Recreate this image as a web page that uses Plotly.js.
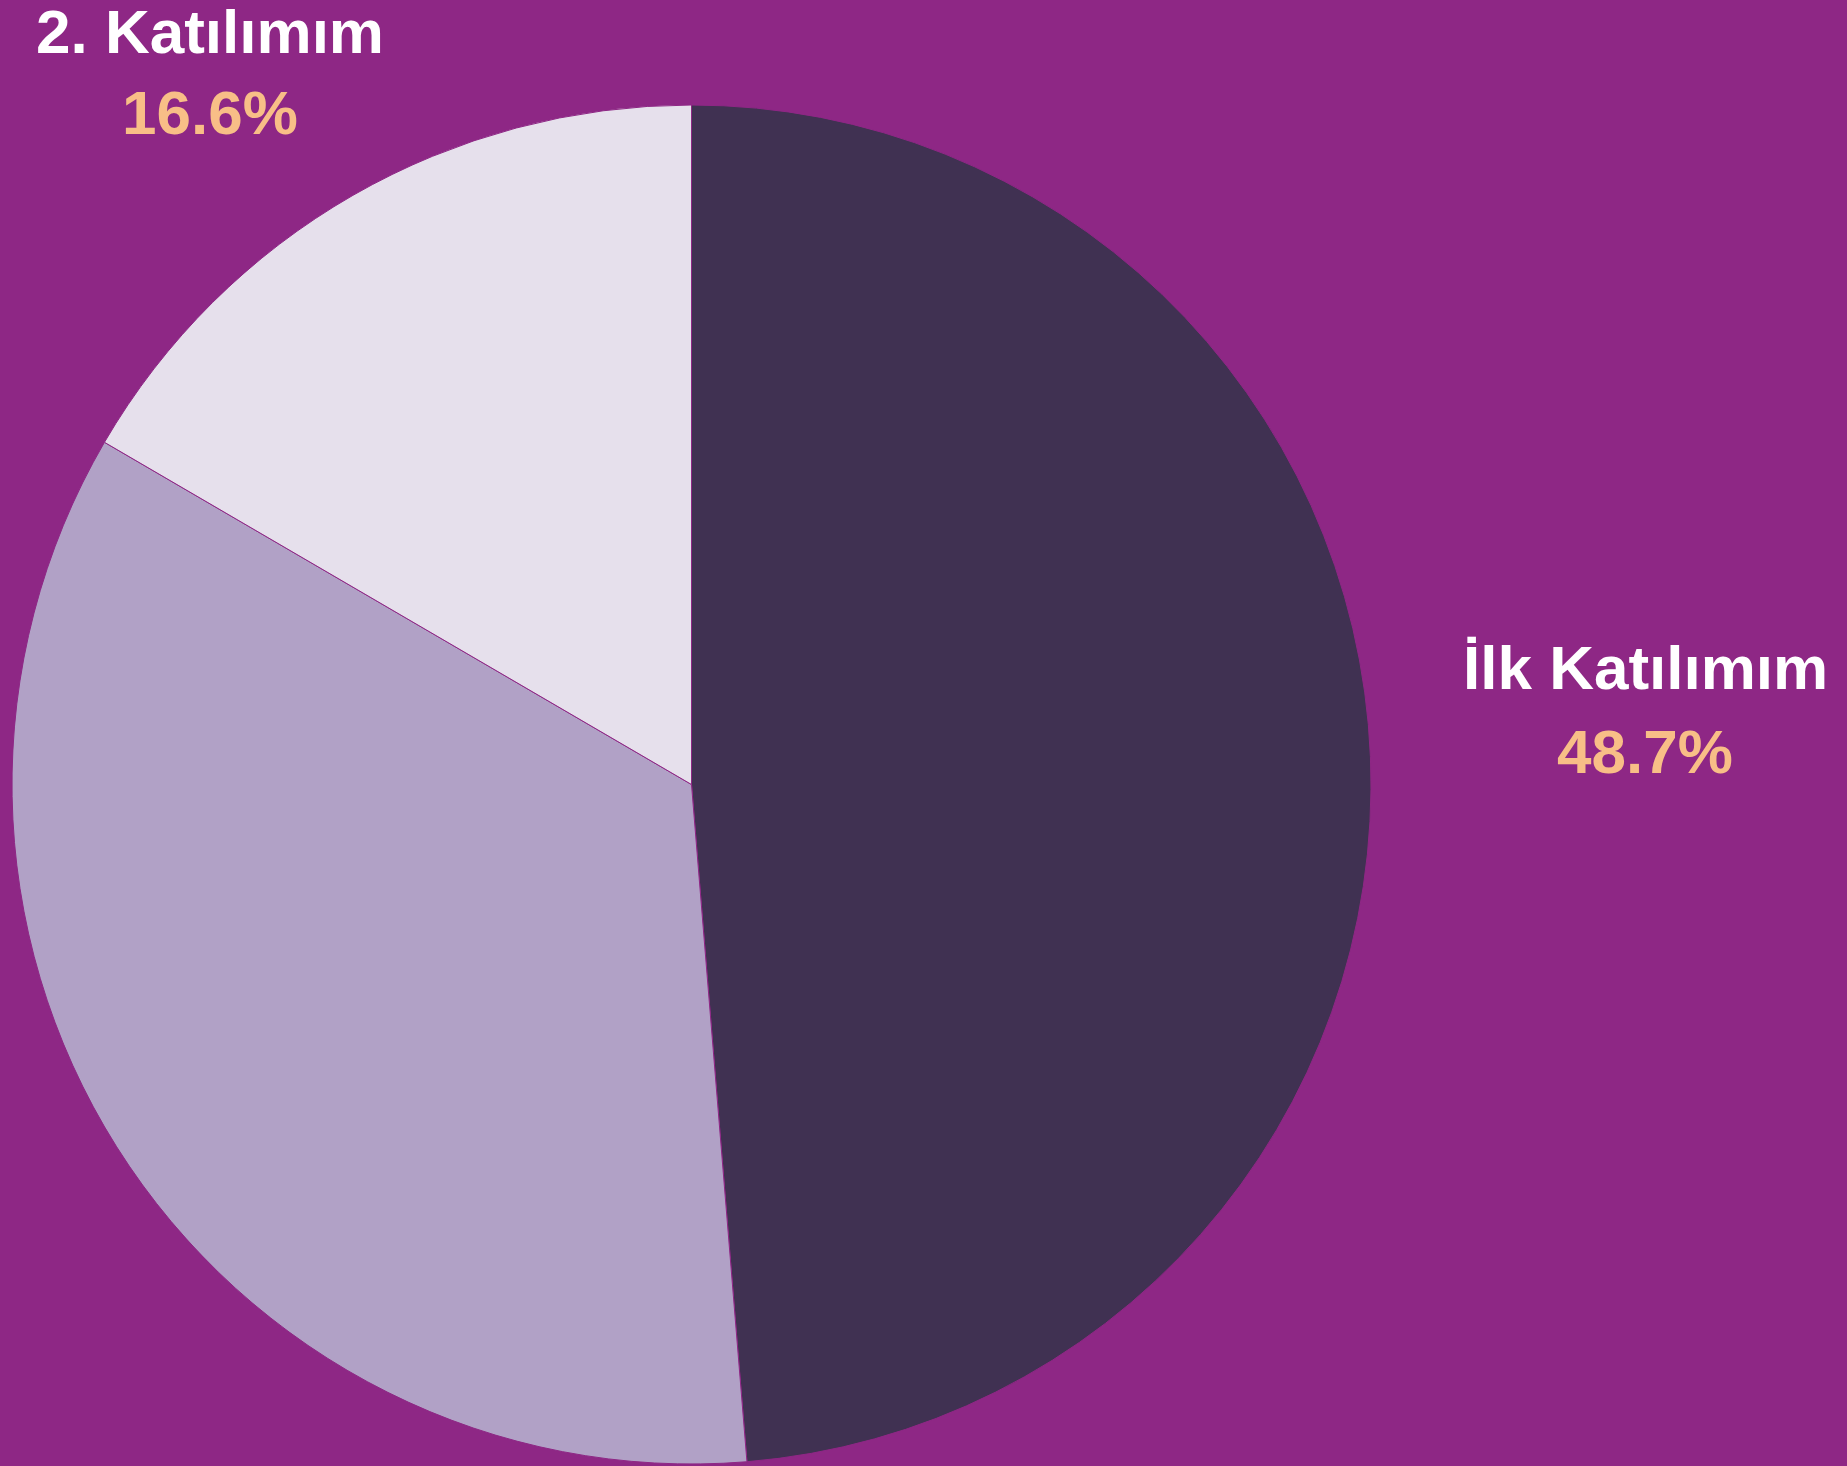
<!DOCTYPE html>
<html>
<head>
<meta charset="utf-8">
<script src="https://cdn.plot.ly/plotly-3.0.1.min.js"></script>
<style>html,body{margin:0;padding:0;background:#8E2785;}</style>
</head>
<body>
<div id="chart" style="width:1847px;height:1466px;"></div>
<script>
// Data
const categories = ["İlk Katılımım", "3. Katılımım", "2. Katılımım"];
const shares = [48.7, 34.7, 16.6];
const sliceColors = ["#403152", "#B1A1C6", "#E6E0EC"];
const labelledSlices = [0, 2];

const bg = "#8E2785";
const font = "Liberation Sans, Arial, sans-serif";

const trace = {
  type: "pie",
  labels: categories,
  values: shares,
  sort: false,
  direction: "clockwise",
  rotation: 0,
  textinfo: "none",
  hoverinfo: "label+percent",
  marker: { colors: sliceColors, line: { color: bg, width: 1 } },
  domain: { x: [12 / 1847, 1371 / 1847], y: [2 / 1466, 1361 / 1466] },
  showlegend: false
};

// label placement (paper coords) for the shown slices
const labelPos = {
  0: { x: 1645 / 1847, yName: 1 - 667 / 1466, yPct: 1 - 751 / 1466 },
  2: { x: 210 / 1847, yName: 1 - 31 / 1466, yPct: 1 - 113 / 1466 }
};

const annotations = [];
labelledSlices.forEach(i => {
  const p = labelPos[i];
  annotations.push({
    xref: "paper", yref: "paper", x: p.x, y: p.yName,
    xanchor: "center", yanchor: "middle", showarrow: false,
    text: "<b>" + categories[i] + "</b>",
    font: { family: font, size: 62, color: "#FFFFFF" }
  });
  annotations.push({
    xref: "paper", yref: "paper", x: p.x, y: p.yPct,
    xanchor: "center", yanchor: "middle", showarrow: false,
    text: "<b>" + shares[i].toFixed(1) + "%</b>",
    font: { family: font, size: 62, color: "#F8BE87" }
  });
});

const layout = {
  width: 1847,
  height: 1466,
  margin: { l: 0, r: 0, t: 0, b: 0, pad: 0 },
  paper_bgcolor: bg,
  plot_bgcolor: bg,
  annotations: annotations,
  showlegend: false
};

Plotly.newPlot("chart", [trace], layout, { displayModeBar: false, staticPlot: true });
</script>
</body>
</html>
